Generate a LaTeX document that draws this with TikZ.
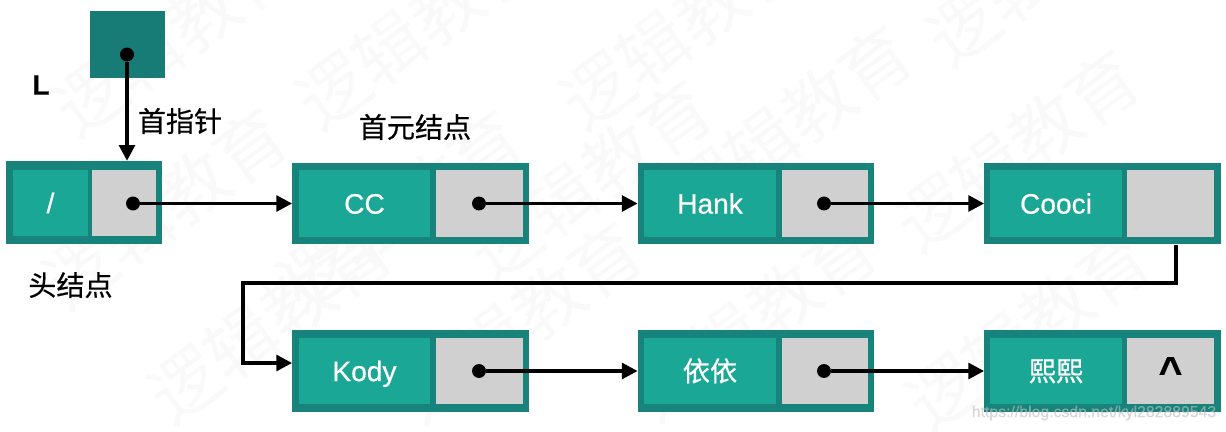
\documentclass[tikz,border=0pt]{standalone}
\usepackage{fontspec}
\setmainfont{Liberation Sans}[FakeBold=0.5]
\newfontfamily\cjk{Noto Sans CJK SC}[FakeBold=0.5]
\newfontfamily\cjkplain{Noto Sans CJK SC}
\usetikzlibrary{arrows.meta}
\definecolor{tealdark}{HTML}{187C76}
\definecolor{tealframe}{HTML}{17837A}
\definecolor{tealcell}{HTML}{1BA796}
\definecolor{greycell}{HTML}{D0D0D0}
\definecolor{markgrey}{HTML}{F9F9F9}
\newlength\unitpx
\setlength\unitpx{0.5669pt}
\tikzset{
	frame/.style    = {fill=tealframe, minimum width=237\unitpx, minimum height=82\unitpx, inner sep=0pt},
	databox/.style  = {fill=tealcell, minimum width=132\unitpx, minimum height=67\unitpx, inner sep=0pt, text=white, text height=11.5pt, text depth=0pt, font=\fontsize{16}{18}\selectfont},
	ptrbox/.style   = {fill=greycell, minimum width=87\unitpx, minimum height=67\unitpx, inner sep=0pt},
	dotmark/.style  = {circle, fill=black, minimum size=14\unitpx, inner sep=0pt},
	link/.style     = {line width=2pt, -{Triangle[length=9pt,width=9pt]}},
	caption/.style  = {inner sep=0pt, font=\cjk\fontsize{16}{18}\selectfont},
	watermark/.style= {inner sep=0pt, text=markgrey, rotate=36, font=\cjkplain\fontsize{40}{44}\selectfont}
}
\begin{document}
\begin{tikzpicture}[x=0.02cm, y=-0.02cm]
		\useasboundingbox (0,0) rectangle (1226,432);
		% background marks
		\foreach \wx/\wy [count=\wi] in {175/35, 418/28, 682/28, 1048/-35, 165/208, 400/210, 590/180, 790/125, 1017/150, 270/322, 520/322, 755/320, 1028/330}
			\node[watermark] (mark\wi) at (\wx,\wy) {逻辑教育};
		% head node
		\node[fill=tealdark, minimum width=75\unitpx, minimum height=67\unitpx, inner sep=0pt] (head) at (127.5,44.5) {};
		\node[frame, minimum width=156\unitpx, minimum height=83\unitpx] (frameA) at (84,202.5) {};
		\node[databox, minimum width=75\unitpx] (dataA) at (50.5,203) {/};
		\node[ptrbox, minimum width=64\unitpx] (ptrA) at (124,203) {};
		% first row
		\node[frame] (frameB) at (410.5,203.5) {};
		\node[databox] (dataB) at (364.5,203.5) {CC};
		\node[ptrbox] (ptrB) at (479.5,203.5) {};
		\node[frame] (frameC) at (756,203.5) {};
		\node[databox] (dataC) at (710,203.5) {Hank};
		\node[ptrbox] (ptrC) at (825,203.5) {};
		\node[frame] (frameD) at (1102.5,203.5) {};
		\node[databox] (dataD) at (1056,203.5) {Cooci};
		\node[ptrbox] (ptrD) at (1170.5,203.5) {};
		% second row
		\node[frame] (frameE) at (410.5,371) {};
		\node[databox] (dataE) at (364.5,371) {Kody};
		\node[ptrbox] (ptrE) at (479.5,371) {};
		\node[frame] (frameF) at (756,371) {};
		\node[databox, font=\cjk\fontsize{15.5}{18}\selectfont] (dataF) at (710,371) {依依};
		\node[ptrbox] (ptrF) at (825,371) {};
		\node[frame] (frameG) at (1102.5,371) {};
		\node[databox, font=\cjk\fontsize{15.5}{18}\selectfont] (dataG) at (1056,371) {熙熙};
		\node[ptrbox, font=\bfseries\fontsize{23}{25}\selectfont] (ptrG) at (1170.5,371) {\^{}};
		% pointer dots
		\node[dotmark] (dotL) at (127,54.5) {};
		\node[dotmark] (dotA) at (133,203.5) {};
		\node[dotmark] (dotB) at (479,203.5) {};
		\node[dotmark] (dotC) at (824,203.5) {};
		\node[dotmark] (dotE) at (479,371) {};
		\node[dotmark] (dotF) at (824,371) {};
		\coordinate (bendA) at (1176,283);
		\coordinate (bendB) at (243,283);
		\coordinate (bendC) at (243,363);
		\draw[link] (dotL) -- (dotL |- frameA.north);
		\draw[link] (dotA) -- (frameB);
		\draw[link] (dotB) -- (frameC);
		\draw[link] (dotC) -- (frameD);
		\draw[link] (dotE) -- (frameF);
		\draw[link] (dotF) -- (frameG);
		\draw[link]
			(frameD.south -| bendA) -- (bendA) -- (bendB) -- (bendC) -- (frameE.west |- bendC);
		% labels
		\node[font=\bfseries\fontsize{16}{18}\selectfont, inner sep=0pt] (labelL) at (41,85) {L};
		\node[caption] (labelPtr) at (180,121) {首指针};
		\node[caption] (labelFirst) at (415,127) {首元结点};
		\node[caption] (labelHead) at (70.5,285) {头结点};
		\node[inner sep=0pt, text=gray!50!white, opacity=0.6, font=\fontsize{9}{11}\selectfont] (labelUrl) at (1094,413) {https://blog.csdn.net/kyl282889543};
	\end{tikzpicture}
\end{document}
